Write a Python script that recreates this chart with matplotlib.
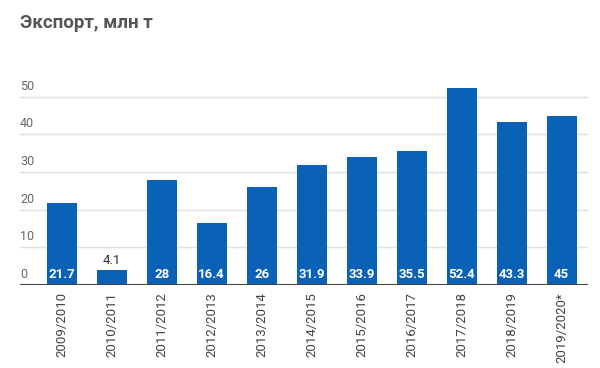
import matplotlib.pyplot as plt

plt.rcParams['font.family'] = ['Roboto', 'DejaVu Sans']

seasons = ['2009/2010', '2010/2011', '2011/2012', '2012/2013', '2013/2014',
           '2014/2015', '2015/2016', '2016/2017', '2017/2018', '2018/2019',
           '2019/2020*']
export = [21.7, 4.1, 28, 16.4, 26, 31.9, 33.9, 35.5, 52.4, 43.3, 45]
yticks = [0, 10, 20, 30, 40, 50]

bar_color = '#0a62b7'

fig = plt.figure(figsize=(6, 3.68), dpi=100)
ax = fig.add_axes([0.0333, 0.2255, 0.9467, 0.612])

x = list(range(len(seasons)))
ax.bar(x, export, width=0.6, color=bar_color, zorder=3)

ax.set_xlim(-0.834, 10.526)
ax.set_ylim(0, 59.8)

# gridlines and y labels sitting above them
for v in yticks:
    if v > 0:
        ax.axhline(v, color='#e0e0e0', lw=1, zorder=1)
    ax.annotate(str(v), xy=(0, v), xycoords=('axes fraction', 'data'),
                xytext=(0, 3), textcoords='offset points',
                ha='left', va='bottom', fontsize=9, color='#666666')
ax.axhline(0, color='#444444', lw=1.5, zorder=4)

# value labels
for xi, v in zip(x, export):
    txt = f'{v:g}'
    if v < 8:
        ax.annotate(txt, xy=(xi, v), xytext=(0, 2), textcoords='offset points',
                    ha='center', va='bottom', fontsize=9.5, color='#333333')
    else:
        ax.annotate(txt, xy=(xi, 0), xytext=(0, 3), textcoords='offset points',
                    ha='center', va='bottom', fontsize=9.5, color='white',
                    fontweight='bold', zorder=5)

ax.set_yticks([])
ax.set_xticks(x)
ax.set_xticklabels(seasons, rotation=90, fontsize=9.5, color='#444444')
ax.tick_params(axis='x', length=0, pad=5)
for s in ax.spines.values():
    s.set_visible(False)

fig.text(0.0333, 0.937, 'Экспорт, млн т', fontsize=13.5, fontweight='bold',
         color='#555555', ha='left', va='center')

fig.savefig('out.png', dpi=100)
